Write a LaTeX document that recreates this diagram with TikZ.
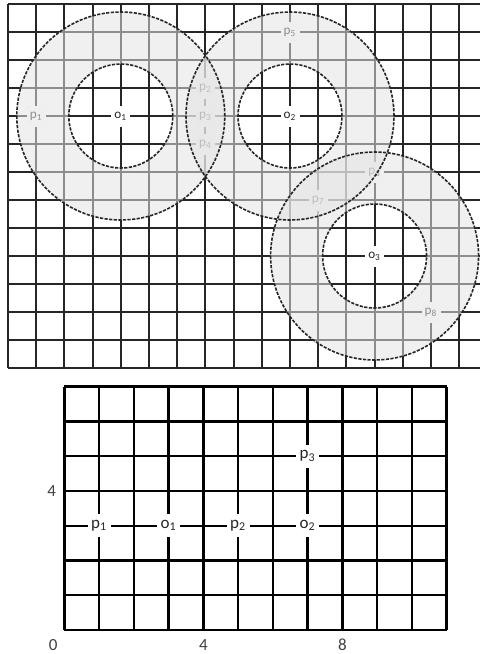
\documentclass[tikz,border=0pt]{standalone}
\usepackage{fontspec}
\setmainfont{Carlito}
\begin{document}
\begin{tikzpicture}[x=0.5pt,y=-0.5pt,
  gridline/.style={line width=0.95pt,draw=black!85},
  biggrid/.style={line width=1.2pt,draw=black},
  toplabel/.style={fill=white,inner sep=0pt,minimum width=9.5pt,minimum height=10.5pt,
    text=black!85,font=\fontsize{6.6}{7}\selectfont},
  botlabel/.style={fill=white,inner sep=0pt,minimum size=11.5pt,
    text=black!85,font=\fontsize{8.5}{9}\selectfont},
  axislabel/.style={inner sep=0pt,text=black!75,font=\fontsize{8.5}{9}\selectfont},
  ringfill/.style={fill=black!11,fill opacity=0.55,even odd rule},
  ringline/.style={line width=0.8pt,draw=black!85,dash pattern=on 1.6pt off 0.7pt}]
\useasboundingbox (0,0) rectangle (480,654);
\coordinate (TG) at (8,4);
\coordinate (BG) at (64.3,630);
% ---------- top grid ----------
\begin{scope}[shift={(TG)},x=14.1pt,y=-14pt]
  \foreach \i in {0,...,16} \draw[gridline] (\i,0) -- (\i,13);
  \foreach \j in {0,...,13} \draw[gridline] (0,\j) -- (16.74,\j);
  \coordinate (c1) at (4,4);
  \coordinate (c2) at (10,4);
  \coordinate (c3) at (13,9);
  \node[toplabel] (o1) at (c1) {o\textsubscript{1}};
  \node[toplabel] (o2) at (c2) {o\textsubscript{2}};
  \node[toplabel] (o3) at (c3) {o\textsubscript{3}};
  \node[toplabel] (tp1) at (1,4) {p\textsubscript{1}};
  \node[toplabel] (tp2) at (7,3) {p\textsubscript{2}};
  \node[toplabel] (tp3) at (7,4) {p\textsubscript{3}};
  \node[toplabel] (tp4) at (7,5) {p\textsubscript{4}};
  \node[toplabel] (tp5) at (10,1) {p\textsubscript{5}};
  \node[toplabel] (tp6) at (13,6) {p\textsubscript{6}};
  \node[toplabel] (tp7) at (11,7) {p\textsubscript{7}};
  \node[toplabel] (tp8) at (15,11) {p\textsubscript{8}};
  \foreach \c in {c1,c2,c3}
    \fill[ringfill] (\c) circle[radius=52pt] (\c) circle[radius=26pt];
  \foreach \c in {c1,c2,c3} {
    \draw[ringline] (\c) circle[radius=52pt];
    \draw[ringline] (\c) circle[radius=26pt];
  }
\end{scope}
% ---------- bottom grid ----------
\begin{scope}[shift={(BG)},x=17.38pt,y=17.38pt]
  \foreach \i in {0,...,11} \draw[biggrid] (\i,0) -- (\i,7);
  \foreach \j in {0,...,7} \draw[biggrid] (0,\j) -- (11,\j);
  \node[botlabel] (bp1) at (1,3) {p\textsubscript{1}};
  \node[botlabel] (bo1) at (3,3) {o\textsubscript{1}};
  \node[botlabel] (bp2) at (5,3) {p\textsubscript{2}};
  \node[botlabel] (bo2) at (7,3) {o\textsubscript{2}};
  \node[botlabel] (bp3) at (7,5) {p\textsubscript{3}};
  \node[axislabel] (ax0) at (-0.32,-0.43) {0};
  \node[axislabel] (ay4) at (-0.36,4) {4};
  \node[axislabel] (ax4) at (4,-0.43) {4};
  \node[axislabel] (ax8) at (8,-0.43) {8};
\end{scope}
\end{tikzpicture}
\end{document}
